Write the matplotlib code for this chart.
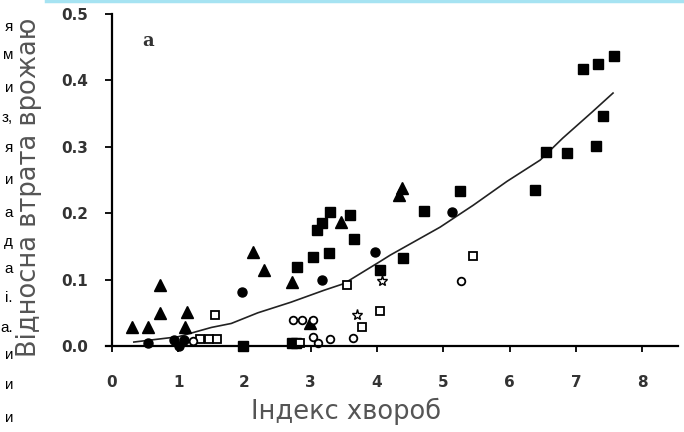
import matplotlib
matplotlib.use("Agg")
import matplotlib.pyplot as plt
from matplotlib.lines import Line2D

# filled squares
sq_x = [7.57, 7.33, 7.10, 7.41, 7.30, 6.86, 6.55, 6.38, 5.25, 4.71, 3.65, 3.59,
        3.29, 3.10, 3.17, 3.27, 3.03, 2.79, 4.39, 4.04, 1.97, 2.71, 2.78]
sq_y = [0.437, 0.425, 0.417, 0.346, 0.301, 0.291, 0.292, 0.235, 0.233, 0.203, 0.161, 0.197,
        0.202, 0.175, 0.185, 0.140, 0.134, 0.119, 0.132, 0.114, 0.000, 0.004, 0.005]

# filled triangles
tri_x = [0.30, 0.55, 0.72, 0.72, 1.13, 1.10, 2.13, 2.29, 2.71, 2.99, 3.45, 4.38, 4.33]
tri_y = [0.029, 0.029, 0.092, 0.050, 0.051, 0.029, 0.142, 0.114, 0.097, 0.035, 0.187, 0.238, 0.228]

# filled circles
fc_x = [1.96, 3.17, 3.97, 5.13, 0.54, 0.94, 1.01, 1.08]
fc_y = [0.081, 0.099, 0.142, 0.202, 0.005, 0.009, 0.000, 0.009]

# open squares
osq_x = [1.55, 1.33, 1.46, 1.58, 3.54, 3.77, 4.04, 5.45, 2.84]
osq_y = [0.047, 0.011, 0.011, 0.010, 0.092, 0.029, 0.053, 0.136, 0.004]

# open circles
oc_x = [5.26, 3.64, 3.29, 3.03, 3.11, 2.73, 2.87, 3.03, 1.22]
oc_y = [0.098, 0.012, 0.010, 0.014, 0.005, 0.039, 0.039, 0.039, 0.008]

# open stars
ost_x = [3.69, 4.07]
ost_y = [0.047, 0.098]

# trend line
fit_x = [0.33, 1.0, 1.5, 1.8, 2.2, 2.7, 3.2, 3.5, 4.04, 4.2, 4.95, 5.45, 5.96, 6.46, 6.8, 7.24, 7.56]
fit_y = [0.006, 0.014, 0.028, 0.034, 0.050, 0.066, 0.084, 0.094, 0.127, 0.137, 0.179, 0.212,
         0.248, 0.280, 0.313, 0.352, 0.381]

xticks = [0, 1, 2, 3, 4, 5, 6, 7, 8]
yticks = [0.0, 0.1, 0.2, 0.3, 0.4, 0.5]
ytick_labels = ["0.0", "0.1", "0.2", "0.3", "0.4", "0.5"]

# cut-off words of the page text on the left
side_letters = ["я", "м", "и", "з,", "я", "и", "а", "д", "а", "і.", "а.", "и", "и", "и"]

fig = plt.figure(figsize=(6.84, 4.32), dpi=100)
ax = fig.add_axes([0.1637, 0.199, 0.8275, 0.7685])

ax.plot(fit_x, fit_y, color="#222222", lw=1.2)

ms = 7
ax.plot(sq_x, sq_y, "s", color="black", ms=ms, clip_on=False)
ax.plot(tri_x, tri_y, "^", color="black", ms=ms + 1, clip_on=False)
ax.plot(fc_x, fc_y, "o", color="black", ms=ms - 0.5, clip_on=False)
ax.plot(osq_x, osq_y, "s", mfc="white", mec="black", mew=1.3, ms=ms - 1, clip_on=False)
ax.plot(oc_x, oc_y, "o", mfc="white", mec="black", mew=1.3, ms=ms - 1.5, clip_on=False)
ax.plot(ost_x, ost_y, "*", mfc="white", mec="black", mew=1.0, ms=ms + 1, clip_on=False)

ax.set_xlim(0, 8.54)
ax.set_ylim(0, 0.5)
ax.spines["top"].set_visible(False)
ax.spines["right"].set_visible(False)
ax.spines["left"].set_linewidth(1.6)
ax.spines["bottom"].set_linewidth(1.6)
ax.spines["bottom"].set_bounds(-0.09, 8.54)

ax.set_xticks(xticks)
ax.set_yticks(yticks)
ax.set_yticklabels(ytick_labels)
ax.tick_params(axis="y", direction="out", length=5, width=1.3, pad=12, labelsize=11,
               labelcolor="#333333")
ax.tick_params(axis="x", direction="out", length=4, width=1.3, pad=17, labelsize=11,
               labelcolor="#333333")
for t in ax.get_xticklabels() + ax.get_yticklabels():
    t.set_fontweight("bold")

ax.text(0.54, 0.46, "a", fontsize=13, fontweight="bold", family="DejaVu Serif",
        color="#333333", ha="center", va="center")

fig.text(346 / 684, 1 - 411 / 432, "Індекс хвороб", fontsize=18.5,
         color="#555555", ha="center", va="center")
fig.text(29 / 684, 1 - 187 / 432, "Відносна втрата врожаю", fontsize=18.5,
         color="#555555", rotation=90, ha="center", va="center")

# left column of letters
ys = [27, 55, 88, 118, 148, 180, 213, 242, 269, 298, 328, 355, 385, 418]
for s, y in zip(side_letters, ys):
    fig.text(13 / 684, 1 - y / 432, s, fontsize=11, family="Liberation Sans",
             ha="right", va="center")

# thin cyan line at the top edge
fig.add_artist(Line2D([46 / 684, 1], [0.997, 0.997], color="#a6e3f2", lw=2.5))

plt.savefig("out.png", dpi=100)
